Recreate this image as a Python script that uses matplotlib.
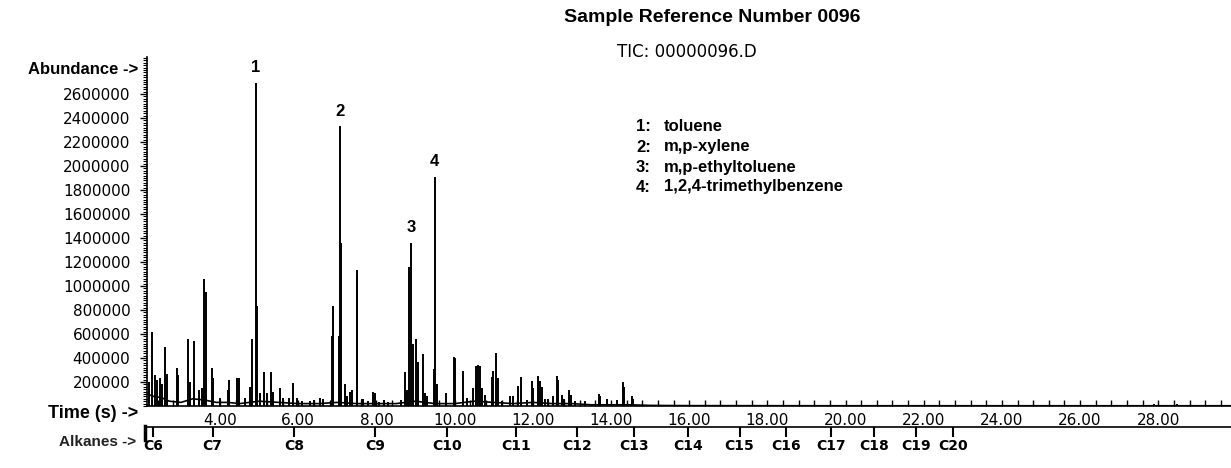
import matplotlib.pyplot as plt
from matplotlib.ticker import MultipleLocator, FixedLocator, FuncFormatter
from matplotlib.lines import Line2D

# retention time (min) and abundance of the spikes
peak_times = [2.18, 2.27, 2.34, 2.38, 2.47, 2.51, 2.59, 2.64, 2.89, 2.93,
              3.19, 3.23, 3.32, 3.34, 3.45, 3.53, 3.59, 3.63, 3.79, 3.83,
              4.00, 4.19, 4.23, 4.43, 4.49, 4.64, 4.77, 4.81, 4.91, 4.94,
              5.02, 5.13, 5.19, 5.30, 5.35, 5.53, 5.62, 5.75, 5.86, 5.96,
              6.09, 6.30, 6.39, 6.56, 6.64, 6.86, 6.90, 7.03, 7.07, 7.10,
              7.20, 7.24, 7.32, 7.38, 7.50, 7.51, 7.62, 7.66, 7.79, 7.91,
              7.95, 8.07, 8.18, 8.30, 8.62, 8.73, 8.78, 8.84, 8.89, 8.93,
              9.01, 9.06, 9.20, 9.24, 9.29, 9.46, 9.49, 9.54, 9.78, 9.98,
              10.02, 10.22, 10.31, 10.48, 10.54, 10.61, 10.65, 10.69, 10.78, 10.95,
              10.99, 11.06, 11.12, 11.20, 11.42, 11.50, 11.63, 11.69, 11.84, 11.97,
              12.01, 12.13, 12.18, 12.23, 12.31, 12.40, 12.52, 12.61, 12.65, 12.74,
              12.80, 12.93, 12.97, 13.08, 13.34, 13.51, 13.69, 13.72, 13.91, 14.02,
              14.15, 14.30, 14.34, 14.53, 14.57, 14.87, 15.13, 15.76, 16.02, 27.89,
              28.48]
peak_heights = [200000, 620000, 260000, 220000, 230000, 180000, 490000, 270000, 320000, 260000,
                560000, 200000, 180000, 540000, 130000, 150000, 1060000, 950000, 320000, 230000,
                70000, 130000, 220000, 230000, 230000, 70000, 160000, 560000, 2690000, 830000,
                110000, 280000, 110000, 280000, 120000, 150000, 70000, 70000, 190000, 70000,
                40000, 40000, 50000, 70000, 60000, 580000, 830000, 580000, 2330000, 1360000,
                180000, 80000, 120000, 130000, 1080000, 1130000, 60000, 60000, 40000, 120000,
                110000, 30000, 50000, 30000, 50000, 280000, 130000, 1160000, 1360000, 520000,
                560000, 370000, 430000, 110000, 80000, 310000, 1910000, 180000, 110000, 410000,
                400000, 290000, 70000, 150000, 330000, 340000, 330000, 150000, 90000, 240000,
                290000, 440000, 230000, 40000, 80000, 80000, 170000, 240000, 50000, 210000,
                150000, 250000, 210000, 160000, 60000, 60000, 80000, 250000, 220000, 90000,
                60000, 130000, 90000, 40000, 40000, 20000, 100000, 80000, 60000, 20000,
                50000, 200000, 160000, 80000, 60000, 10000, 10000, 10000, 10000, 20000,
                20000]

# slowly varying floor of the trace
baseline_times = [2.13, 2.3, 2.5, 2.7, 3.0, 3.3, 3.6, 3.9, 4.2, 4.5, 5.0, 5.5, 6.0, 6.5,
                  7.0, 7.5, 8.0, 8.5, 9.0, 9.5, 10.0, 10.5, 11.0, 11.5, 12.0, 12.5,
                  13.0, 13.5, 14.0, 14.5, 15.0, 16.0, 20.0, 29.86]
baseline_levels = [100000, 80000, 70000, 40000, 30000, 60000, 50000, 30000, 30000, 20000,
                   40000, 30000, 20000, 20000, 30000, 20000, 20000, 20000, 40000, 20000,
                   20000, 40000, 30000, 20000, 30000, 20000, 20000, 10000, 10000, 10000,
                   5000, 3000, 2000, 2000]

# numbered compounds
label_numbers = ['1', '2', '3', '4']
label_times = [4.91, 7.07, 8.89, 9.49]
label_heights = [2690000, 2330000, 1360000, 1910000]
compound_names = ['toluene', 'm,p-xylene', 'm,p-ethyltoluene', '1,2,4-trimethylbenzene']

# n-alkane retention markers
alkane_times = [2.28, 3.81, 5.89, 7.97, 9.81, 11.56, 13.14, 14.60, 15.98,
                17.29, 18.47, 19.62, 20.74, 21.80, 22.75]
alkane_labels = ['C6', 'C7', 'C8', 'C9', 'C10', 'C11', 'C12', 'C13', 'C14',
                 'C15', 'C16', 'C17', 'C18', 'C19', 'C20']

time_labels = [4, 6, 8, 10, 12, 14, 16, 18, 20, 22, 24, 26, 28]
abundance_ticks = [200000, 400000, 600000, 800000, 1000000, 1200000, 1400000,
                   1600000, 1800000, 2000000, 2200000, 2400000, 2600000]

W, H = 1231, 468
fig = plt.figure(figsize=(W / 100, H / 100), dpi=100)
ax = fig.add_axes([147 / W, 62 / H, (W - 147) / W, 349 / H])

ax.plot(baseline_times, baseline_levels, color='black', lw=1.2)
ax.vlines(peak_times, 0, peak_heights, colors='black', lw=1.4)

for n, t, h in zip(label_numbers, label_times, label_heights):
    ax.annotate(n, xy=(t, h), xytext=(0, 11), textcoords='offset points',
                ha='center', va='center', fontsize=12, fontweight='bold',
                family='Liberation Sans')

ax.set_xlim(2.13, 29.86)
ax.set_ylim(0, 2908000)

for side in ['top', 'right']:
    ax.spines[side].set_visible(False)
ax.spines['left'].set_linewidth(1.2)
ax.spines['bottom'].set_linewidth(1.2)

ax.yaxis.set_major_locator(FixedLocator(abundance_ticks))
ax.yaxis.set_minor_locator(MultipleLocator(20000))
ax.yaxis.set_major_formatter(FuncFormatter(lambda v, p: '%d' % v))
ax.tick_params(axis='y', which='major', direction='out', length=5, width=1, pad=7,
               labelsize=11)
ax.tick_params(axis='y', which='minor', direction='out', length=3, width=0.8)

ax.xaxis.set_major_locator(FixedLocator(time_labels))
ax.xaxis.set_minor_locator(MultipleLocator(0.4))
ax.xaxis.set_major_formatter(FuncFormatter(lambda v, p: '%.2f' % v))
ax.tick_params(axis='x', which='both', direction='in', length=4, width=1, pad=5,
               labelsize=11)

for lab in ax.get_xticklabels() + ax.get_yticklabels():
    lab.set_family('DejaVu Sans')

# alkane scale under the time axis
sec = ax.secondary_xaxis(-20.7 / 349)
sec.set_xticks(alkane_times, alkane_labels)
sec.tick_params(direction='out', length=7, width=1.5, pad=2, labelsize=10)
sec.spines['bottom'].set_linewidth(1.2)
for lab in sec.get_xticklabels():
    lab.set_fontweight('bold')
fig.add_artist(Line2D([145 / W, 145 / W], [1 - 426 / H, 1 - 440 / H], color='black', lw=2.5))

bold = dict(family='Liberation Sans', fontweight='bold')
fig.text(712 / W, 1 - 18 / H, 'Sample Reference Number 0096', ha='center', va='center',
         fontsize=14, **bold)
fig.text(687 / W, 1 - 52 / H, 'TIC: 00000096.D', ha='center', va='center',
         fontsize=12, family='DejaVu Sans')
fig.text(138 / W, 1 - 70 / H, 'Abundance ->', ha='right', va='center', fontsize=12, **bold)
fig.text(138 / W, 1 - 414 / H, 'Time (s) ->', ha='right', va='center', fontsize=13, **bold)
fig.text(136 / W, 1 - 442 / H, 'Alkanes ->', ha='right', va='center', fontsize=11,
         color='#222222', **bold)

for i, name in enumerate(compound_names):
    y = 1 - (127 + i * 20) / H
    fig.text(636 / W, y, '%d:' % (i + 1), ha='left', va='center', fontsize=12, **bold)
    fig.text(664 / W, y, name, ha='left', va='center', fontsize=12, **bold)

fig.savefig('out.png', dpi=100)
